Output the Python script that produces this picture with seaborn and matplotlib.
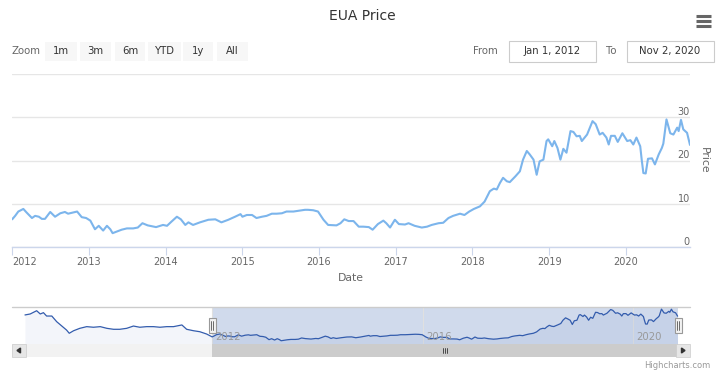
import numpy as np
import pandas as pd
import matplotlib
matplotlib.use("Agg")
import matplotlib.pyplot as plt
import matplotlib.transforms as mtransforms
from matplotlib.patches import Rectangle
from matplotlib.lines import Line2D
import seaborn as sns

# EUA price (navigator covers 2008 onwards, main view from 2012)
dates = [
    "2008-06-13", "2008-07-19", "2008-09-02", "2008-09-27", "2008-10-19", "2008-11-10",
    "2008-12-16", "2009-01-19", "2009-02-24", "2009-03-28", "2009-04-16", "2009-05-16",
    "2009-06-28", "2009-08-15", "2009-10-01", "2009-11-17", "2010-01-02", "2010-02-17",
    "2010-04-01", "2010-05-19", "2010-07-05", "2010-08-18", "2010-10-05", "2010-11-21",
    "2011-01-05", "2011-02-21", "2011-04-09", "2011-06-06", "2011-07-09", "2011-08-26",
    "2011-10-08", "2011-11-24",
    "2012-01-02", "2012-01-16", "2012-01-31", "2012-02-24", "2012-03-10", "2012-04-05",
    "2012-04-20", "2012-05-08", "2012-05-22", "2012-06-06", "2012-07-01", "2012-07-24",
    "2012-08-18", "2012-09-09", "2012-09-24", "2012-10-19", "2012-11-06", "2012-11-28",
    "2012-12-19", "2013-01-08", "2013-01-30", "2013-02-17", "2013-03-10", "2013-03-28",
    "2013-04-13", "2013-04-24", "2013-05-16", "2013-06-06", "2013-07-01", "2013-07-31",
    "2013-08-22", "2013-09-13", "2013-10-08", "2013-11-17", "2013-12-20", "2014-01-08",
    "2014-01-30", "2014-02-24", "2014-03-15", "2014-04-05", "2014-04-20", "2014-05-12",
    "2014-06-14", "2014-07-24", "2014-08-26", "2014-09-24", "2014-10-27", "2014-11-28",
    "2014-12-24", "2015-01-02", "2015-01-23", "2015-02-17", "2015-03-10", "2015-04-05",
    "2015-04-27", "2015-05-22", "2015-06-14", "2015-07-09", "2015-07-31", "2015-09-02",
    "2015-10-01", "2015-10-27", "2015-11-10", "2015-12-05", "2015-12-28", "2016-01-23",
    "2016-02-14", "2016-03-25", "2016-04-13", "2016-05-01", "2016-05-22", "2016-06-14",
    "2016-07-09", "2016-07-31", "2016-08-26", "2016-09-13", "2016-10-08", "2016-11-03",
    "2016-11-17", "2016-12-05", "2016-12-28", "2017-01-16", "2017-02-14", "2017-03-03",
    "2017-04-01", "2017-05-05", "2017-05-30", "2017-06-21", "2017-07-24", "2017-08-15",
    "2017-09-09", "2017-10-01", "2017-11-03", "2017-11-24", "2017-12-17", "2018-01-08",
    "2018-02-06", "2018-02-28", "2018-03-25", "2018-04-13", "2018-04-27", "2018-05-12",
    "2018-05-27", "2018-06-14", "2018-06-28", "2018-07-24", "2018-08-15", "2018-08-30",
    "2018-09-17", "2018-10-01", "2018-10-19", "2018-11-03", "2018-11-17", "2018-12-05",
    "2018-12-20", "2018-12-28", "2019-01-16", "2019-01-26", "2019-02-10", "2019-02-24",
    "2019-03-10", "2019-03-25", "2019-04-13", "2019-04-27", "2019-05-12", "2019-05-27",
    "2019-06-06", "2019-07-01", "2019-07-27", "2019-08-11", "2019-08-30", "2019-09-13",
    "2019-10-01", "2019-10-12", "2019-10-23", "2019-11-10", "2019-11-24", "2019-12-16",
    "2020-01-08", "2020-01-23", "2020-02-06", "2020-02-21", "2020-03-10", "2020-03-17",
    "2020-03-25", "2020-04-05", "2020-04-16", "2020-05-05", "2020-05-19", "2020-06-06",
    "2020-06-21", "2020-06-28", "2020-07-13", "2020-07-31", "2020-08-15", "2020-09-02",
    "2020-09-09", "2020-09-20", "2020-10-01", "2020-10-19", "2020-11-02",
]
price = [
    24.6, 25.4, 28.1, 25.4, 26.5, 23.7,
    23.7, 19.0, 15.4, 12.1, 9.4, 11.5,
    13.5, 14.9, 14.4, 14.9, 13.5, 12.7,
    12.7, 13.5, 15.4, 14.4, 14.9, 14.9,
    14.4, 14.9, 14.9, 16.3, 12.7, 11.5,
    10.7, 8.8,
    6.4, 7.2, 8.2, 8.8, 8.0, 6.7,
    7.2, 7.0, 6.5, 6.5, 8.1, 7.0,
    7.8, 8.1, 7.7, 8.0, 8.2, 6.9,
    6.7, 6.1, 4.1, 4.9, 3.8, 4.9,
    4.1, 3.2, 3.6, 4.0, 4.3, 4.3,
    4.5, 5.5, 5.0, 4.6, 5.1, 4.9,
    5.9, 7.0, 6.4, 5.1, 5.7, 5.1,
    5.7, 6.3, 6.4, 5.7, 6.3, 7.0,
    7.6, 7.0, 7.4, 7.4, 6.7, 7.0,
    7.2, 7.7, 7.7, 7.8, 8.2, 8.2,
    8.4, 8.6, 8.6, 8.5, 8.2, 6.3,
    5.1, 5.0, 5.5, 6.4, 6.0, 6.0,
    4.7, 4.7, 4.6, 4.0, 5.3, 6.1,
    5.5, 4.5, 6.3, 5.3, 5.2, 5.5,
    4.9, 4.5, 4.7, 5.1, 5.5, 5.6,
    6.7, 7.2, 7.7, 7.4, 8.2, 8.8,
    9.4, 10.5, 12.9, 13.5, 13.3, 14.8,
    16.0, 15.2, 15.0, 16.3, 17.5, 20.2,
    22.2, 21.4, 20.2, 16.7, 19.8, 20.2,
    24.5, 24.9, 23.3, 24.5, 22.9, 20.2,
    22.7, 21.8, 26.8, 26.6, 25.6, 25.7,
    24.5, 26.0, 29.1, 28.4, 26.0, 26.4,
    25.3, 23.7, 25.7, 25.7, 24.3, 26.3,
    24.5, 24.7, 23.7, 25.3, 23.3, 20.2,
    17.1, 17.0, 20.4, 20.5, 19.1, 21.4,
    22.9, 23.9, 29.5, 26.3, 26.0, 27.6,
    26.8, 29.4, 27.2, 26.4, 23.6,
]
year_ticks = list(range(2012, 2021))
nav_ticks = [2012, 2016, 2020]
price_ticks = [0, 10, 20, 30, 40]
zoom_buttons = ["1m", "3m", "6m", "YTD", "1y", "All"]
range_from = "Jan 1, 2012"
range_to = "Nov 2, 2020"
view_start, view_end = "2012-01-01", "2020-11-02"

df = pd.DataFrame({"Date": pd.to_datetime(dates), "Price": price})

sns.set_theme(style="white")
plt.rcParams["font.family"] = ["DejaVu Sans"]

W, H = 720, 372
fig = plt.figure(figsize=(7.2, 3.72), dpi=100)


def frame(x0, y0, x1, y1):
    return [x0 / W, 1 - y1 / H, (x1 - x0) / W, (y1 - y0) / H]


def rect(x0, y0, x1, y1, **kw):
    fig.add_artist(Rectangle((x0 / W, 1 - y1 / H), (x1 - x0) / W, (y1 - y0) / H,
                             transform=fig.transFigure, **kw))


def seg(x0, y0, x1, y1, **kw):
    fig.add_artist(Line2D([x0 / W, x1 / W], [1 - y0 / H, 1 - y1 / H],
                          transform=fig.transFigure, **kw))


def label(x, y, s, **kw):
    fig.text(x / W, 1 - y / H, s, **kw)


# title and menu icon
label(362, 16, "EUA Price", ha="center", va="center", fontsize=10, color="#333333")
for yy in (16, 21, 26):
    seg(696, yy, 711, yy, color="#666666", lw=2.2, solid_capstyle="butt")

# range selector
label(12, 51, "Zoom", ha="left", va="center", fontsize=7.3, color="#666666")
btn_x = [(45, 77), (80, 111), (115, 145), (148, 181), (183, 213), (217, 248)]
for (x0, x1), b in zip(btn_x, zoom_buttons):
    rect(x0, 42, x1, 61, facecolor="#f7f7f7", edgecolor="none")
    label((x0 + x1) / 2, 51, b, ha="center", va="center", fontsize=7.3, color="#333333")

label(473, 51, "From", ha="left", va="center", fontsize=7.3, color="#666666")
rect(509, 41, 596, 62, facecolor="white", edgecolor="#cccccc", lw=0.8)
label(552, 51, range_from, ha="center", va="center", fontsize=7.3, color="#333333")
label(606, 51, "To", ha="left", va="center", fontsize=7.3, color="#666666")
rect(627, 41, 714, 62, facecolor="white", edgecolor="#cccccc", lw=0.8)
label(670, 51, range_to, ha="center", va="center", fontsize=7.3, color="#333333")

# main chart
ax = fig.add_axes(frame(12, 74, 690, 247))
sns.lineplot(data=df, x="Date", y="Price", ax=ax, color="#7cb5ec", lw=1.5)
ax.set_xlim(pd.Timestamp(view_start), pd.Timestamp(view_end))
ax.set_ylim(0, 40)
ax.set_yticks(price_ticks)
ax.set_yticklabels([str(v) if v < 40 else "" for v in price_ticks])
ax.yaxis.tick_right()
ax.tick_params(axis="y", length=0, pad=0, labelsize=7, labelcolor="#666666")
for t in ax.get_yticklabels():
    t.set_ha("right")
    t.set_va("bottom")
ax.grid(axis="y", color="#e6e6e6", lw=1)
ax.grid(axis="x", visible=False)
for s in ["left", "right", "top"]:
    ax.spines[s].set_visible(False)
ax.spines["bottom"].set_color("#ccd6eb")
ax.spines["bottom"].set_linewidth(1)
ax.set_xticks([pd.Timestamp(f"{y}-01-01") for y in year_ticks])
ax.set_xticklabels([str(y) for y in year_ticks])
ax.tick_params(axis="x", length=6, width=0.8, color="#ccd6eb", direction="out",
               pad=1.5, labelsize=7, labelcolor="#666666", bottom=True)
ax.xaxis.get_major_ticks()[0].label1.set_horizontalalignment("left")
ax.set_xlabel("Date", fontsize=7.8, color="#666666", labelpad=4)
ax.set_ylabel("")
label(704, 160, "Price", ha="center", va="center", rotation=270, fontsize=7.8, color="#666666")

# navigator
nav = fig.add_axes(frame(12, 307, 690, 344))
nav_lo, nav_hi = 0.5, 31.2
view_mask = (102 / 255, 133 / 255, 194 / 255)
nav.axvspan(pd.Timestamp(view_start), pd.Timestamp(view_end), color=view_mask, alpha=0.3, lw=0, zorder=0)
for y in nav_ticks:
    nav.axvline(pd.Timestamp(f"{y}-01-01"), color="#e0e0e0", lw=0.8, zorder=1)
nav.fill_between(df["Date"], df["Price"], nav_lo, color="#335cad", alpha=0.06, lw=0, zorder=2)
sns.lineplot(data=df, x="Date", y="Price", ax=nav, color="#335cad", lw=0.9, zorder=3)
nav.set_xlim(pd.Timestamp("2008-03-15"), pd.Timestamp("2021-01-27"))
nav.set_ylim(nav_lo, nav_hi)
nav.set_xticks([])
nav.set_yticks([])
nav.set_xlabel("")
nav.set_ylabel("")
for s in nav.spines.values():
    s.set_visible(False)
lab_tr = mtransforms.offset_copy(nav.get_xaxis_transform(), fig=fig, x=3, y=0, units="dots")
for y in nav_ticks:
    nav.text(pd.Timestamp(f"{y}-01-01"), 0.18, str(y), transform=lab_tr, ha="left", va="center",
             fontsize=7.3, color="#999999", zorder=4)
seg(12, 307, 690, 307, color="#cccccc", lw=1)

# navigator handles
for hx in (212, 678):
    rect(hx - 3.5, 318, hx + 3.5, 333, facecolor="#f2f2f2", edgecolor="#999999", lw=0.8)
    seg(hx - 1, 321, hx - 1, 330, color="#333333", lw=0.5)
    seg(hx + 1, 321, hx + 1, 330, color="#333333", lw=0.5)

# scrollbar
rect(12, 344, 690, 357, facecolor="#f2f2f2", edgecolor="none")
rect(212, 344, 678, 357, facecolor="#cccccc", edgecolor="none")
rect(12, 344, 26, 357, facecolor="#e6e6e6", edgecolor="#cccccc", lw=0.5)
rect(676, 344, 690, 357, facecolor="#e6e6e6", edgecolor="#cccccc", lw=0.5)
fig.add_artist(plt.Polygon([[20.5 / W, 1 - 348 / H], [20.5 / W, 1 - 353 / H], [17 / W, 1 - 350.5 / H]],
                           closed=True, transform=fig.transFigure, color="#333333"))
fig.add_artist(plt.Polygon([[681.5 / W, 1 - 348 / H], [681.5 / W, 1 - 353 / H], [685 / W, 1 - 350.5 / H]],
                           closed=True, transform=fig.transFigure, color="#333333"))
for gx in (443, 445, 447):
    seg(gx, 348, gx, 353, color="#333333", lw=0.6)

label(710, 365, "Highcharts.com", ha="right", va="center", fontsize=6, color="#999999")

fig.savefig("out.png", dpi=100)
